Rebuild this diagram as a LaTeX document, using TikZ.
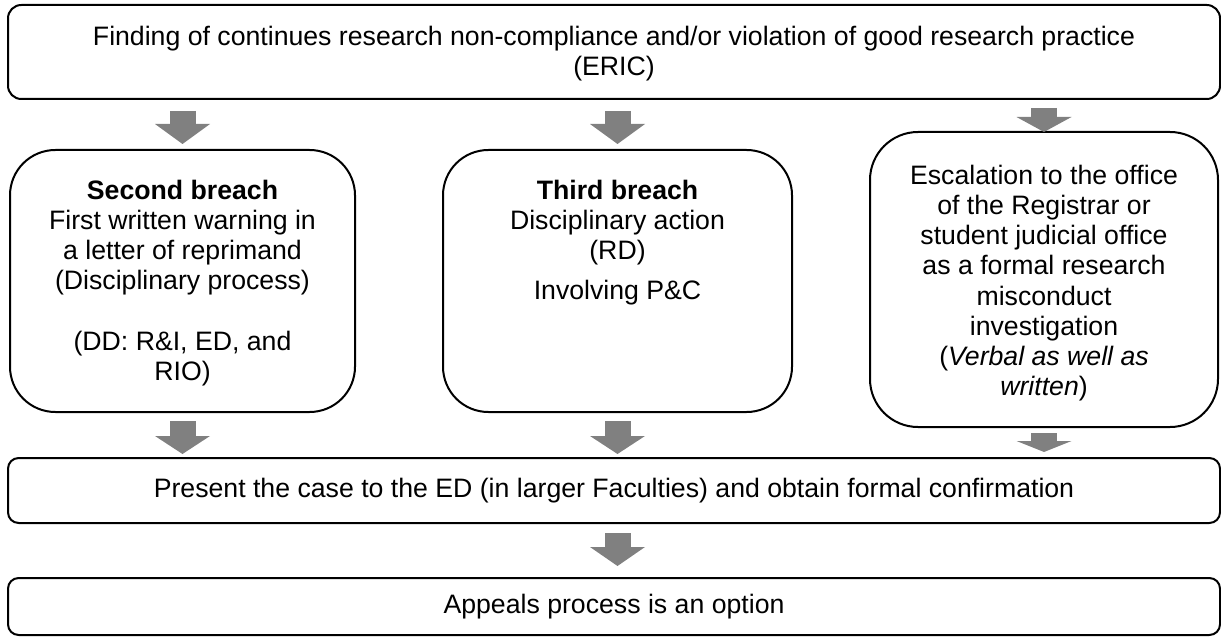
\documentclass[tikz,border=0pt]{standalone}
\usepackage{fontspec}
\setmainfont{Liberation Sans}
\usepackage{tikz}
\usetikzlibrary{calc,fit,arrows.meta}
\definecolor{ink}{HTML}{000000}
\definecolor{fatgray}{HTML}{808080}
\tikzset{
  box/.style={draw=ink, line width=1.5pt, inner sep=0pt, rounded corners=#1},
  box/.default=8pt,
  txt/.style={text=ink, align=center, inner sep=0pt, font=\fontsize{20pt}{22.6pt}\selectfont},
  fat/.style={draw=fatgray, line width=19.5pt,
    -{Triangle[width=41.25pt,length=#1,line width=0pt]}},
  fat/.default=15pt,
}
\begin{document}
\begin{tikzpicture}[x=0.75pt,y=-0.75pt]
  \useasboundingbox (0,0) rectangle (1221,638);

  % boxes
  \node[box=10pt, fit={(8,5) (1220,99)}] (finding) {};
  \node[box=34pt, fit={(10,150) (355,412)}] (second) {};
  \node[box=34pt, fit={(443,150) (792,412)}] (third) {};
  \node[box=36pt, fit={(870,132) (1218,427)}] (escal) {};
  \node[box=8pt, fit={(8,458) (1220,523)}] (present) {};
  \node[box=8pt, fit={(8,578) (1220,635)}] (appeals) {};

  % texts
  \node[txt, anchor=north] (findingtxt) at ($(finding.north)+(0,22)$)
    {Finding of continues research non-compliance and/or violation of good research practice\\(ERIC)};
  \node[txt, anchor=north] (secondtxt) at ($(second.north)+(0,31)$)
    {\textbf{Second breach}\\First written warning in\\a letter of reprimand\\(Disciplinary process)\\[22.6pt](DD: R\&I, ED, and\\RIO)};
  \node[txt, anchor=north] (thirdtxt) at ($(third.north)+(0,31)$)
    {\textbf{Third breach}\\Disciplinary action\\(RD)\\[7.5pt]Involving P\&C};
  \node[txt, anchor=north] (escaltxt) at ($(escal.north)+(0,34)$)
    {Escalation to the office\\of the Registrar or\\student judicial office\\as a formal research\\misconduct\\investigation\\(\textit{Verbal as well as}\\\textit{written})};
  \node[txt] (presenttxt) at (present.center)
    {Present the case to the ED (in larger Faculties) and obtain formal confirmation};
  \node[txt] (appealstxt) at (appeals.center) {Appeals process is an option};

  % block arrows
  \draw[fat] ($(finding.south -| second)+(0,11)$) -- ($(second.north)+(0,-5)$);
  \draw[fat] ($(finding.south -| third)+(0,11)$) -- ($(third.north)+(0,-5)$);
  \draw[fat=11.25pt] ($(finding.south -| escal)+(0,8)$) -- ($(escal.north)+(0,1)$);
  \draw[fat=13.5pt] ($(second.south)+(0,8)$) -- ($(present.north -| second)+(0,-3)$);
  \draw[fat=13.5pt] ($(third.south)+(0,8)$) -- ($(present.north -| third)+(0,-3)$);
  \draw[fat=8.25pt] ($(escal.south)+(0,5)$) -- ($(present.north -| escal)+(0,-5)$);
  \draw[fat=14.25pt] ($(present.south -| third)+(0,9)$) -- ($(appeals.north -| third)+(0,-11)$);
\end{tikzpicture}
\end{document}
